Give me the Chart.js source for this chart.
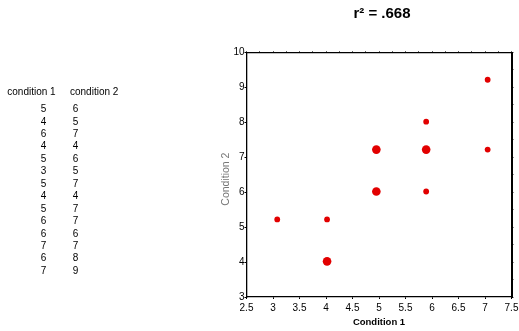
<!DOCTYPE html>
<html>
<head>
<meta charset="utf-8">
<script src="https://cdn.jsdelivr.net/npm/chart.js@4/dist/chart.umd.min.js"></script>
<style>
body { margin: 0; width: 519px; height: 331px; overflow: hidden; background: #fff; position: relative;
       font-family: "Liberation Sans", Arial, sans-serif; }
#chart { position: absolute; left: 0; top: 0; }
.cell { position: absolute; font-size: 10px; line-height: 12.44px; color: #000; white-space: nowrap; }
#title { position: absolute; top: 4px; left: 382px; transform: translateX(-50%);
         font-weight: bold; font-size: 15px; white-space: nowrap; }
</style>
</head>
<body>
<canvas id="chart" width="519" height="331"></canvas>
<div id="title">r² = .668</div>
<div id="table"></div>
<script>
// raw table shown on the left
const cond1 = [5, 4, 6, 4, 5, 3, 5, 4, 5, 6, 6, 7, 6, 7];
const cond2 = [6, 5, 7, 4, 6, 5, 7, 4, 7, 7, 6, 7, 8, 9];
const headers = ['condition 1', 'condition 2'];

// plotted points as they sit in the picture, with how many pairs each one stands for
const pointX = [3.08, 4.02, 4.02, 4.95, 5.89, 4.95, 5.89, 5.89, 7.05, 7.05];
const pointY = [5.22, 5.22, 4.02, 6.02, 6.02, 7.22, 7.22, 8.02, 7.22, 9.22];
const pointCount = [1, 1, 2, 2, 1, 2, 2, 1, 1, 1];

const xTitle = 'Condition 1';
const yTitle = 'Condition 2';

// table text
const table = document.getElementById('table');
function addCell(text, left, top) {
    const d = document.createElement('div');
    d.className = 'cell';
    d.textContent = text;
    d.style.left = left + 'px';
    d.style.top = top + 'px';
    table.appendChild(d);
}
addCell(headers[0], 7.3, 86.3);
addCell(headers[1], 70, 86.3);
cond1.forEach((v, i) => {
    addCell(String(v), 40.7, 103.1 + i * 12.44);
    addCell(String(cond2[i]), 72.7, 103.1 + i * 12.44);
});

const font = { family: "'Liberation Sans', Arial, sans-serif", size: 10 };
const plainNumber = v => String(+v.toFixed(2));

new Chart(document.getElementById('chart'), {
    type: 'scatter',
    data: {
        datasets: [{
            data: pointX.map((x, i) => ({ x: x, y: pointY[i] })),
            backgroundColor: 'rgb(226, 0, 0)',
            borderWidth: 0,
            pointRadius: ctx => pointCount[ctx.dataIndex] > 1 ? 4.3 : 2.9,
        }]
    },
    options: {
        responsive: false,
        animation: false,
        layout: { padding: { left: 219, right: 0, top: 49.5, bottom: 0 } },
        plugins: { legend: { display: false }, tooltip: { enabled: false } },
        scales: {
            x: {
                type: 'linear', position: 'bottom', min: 2.5, max: 7.5,
                // let the last label hang over the right edge like the original
                afterFit: s => { s.height = 34; s.paddingRight = 7; },
                border: { color: '#000', width: 1.3 },
                grid: { drawOnChartArea: false, tickLength: 2, color: '#000' },
                ticks: { stepSize: 0.5, padding: 3, color: '#000', font: font, maxRotation: 0,
                         callback: plainNumber },
                title: { display: true, text: xTitle, color: '#000',
                         font: { family: font.family, size: 9.5, weight: 'bold' }, padding: { top: 0, bottom: 2.6 } }
            },
            x2: {
                type: 'linear', position: 'top', min: 2.5, max: 7.5,
                afterFit: s => { s.height = 3; },
                border: { color: '#000', width: 1.3 },
                grid: { drawOnChartArea: false, tickLength: 1.5, color: '#666' },
                ticks: { stepSize: 0.25, display: false }
            },
            y: {
                type: 'linear', position: 'left', min: 3, max: 10,
                afterFit: s => { s.width = 27.5; },
                border: { color: '#000', width: 1.3 },
                grid: { drawOnChartArea: false, tickLength: 2, color: '#000' },
                ticks: { stepSize: 1, padding: 0, color: '#000', font: font, callback: plainNumber },
                // trailing spaces nudge the rotated title down a little, as in the original
                title: { display: true, text: yTitle + '   ', color: '#777',
                         font: { family: font.family, size: 10.5 }, padding: { top: 1, bottom: 0 } }
            },
            y2: {
                type: 'linear', position: 'right', min: 3, max: 10,
                afterFit: s => { s.width = 7.5; },
                border: { color: '#000', width: 2 },
                grid: { drawOnChartArea: false, tickLength: 2, color: '#333' },
                ticks: { stepSize: 0.5, display: false }
            }
        }
    }
});
</script>
</body>
</html>
